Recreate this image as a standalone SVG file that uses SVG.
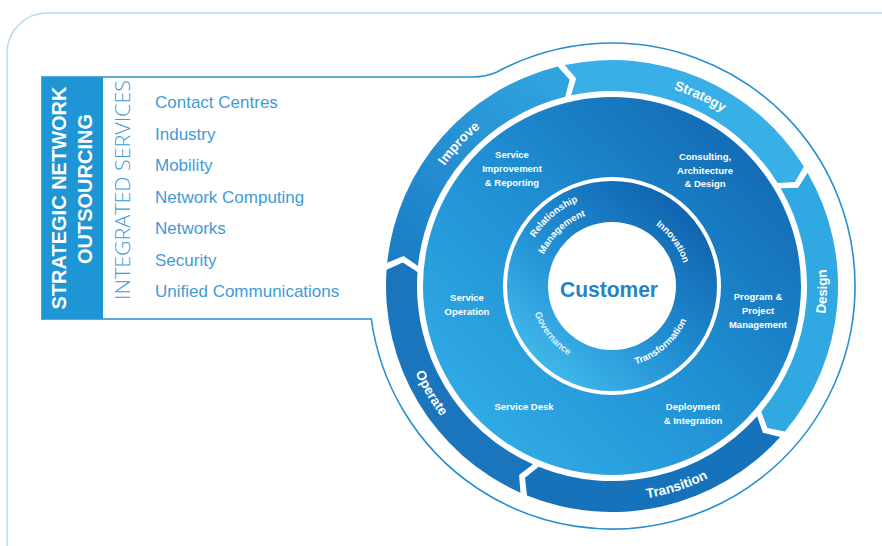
<svg xmlns="http://www.w3.org/2000/svg" width="882" height="546" viewBox="0 0 882 546">
<style>
.frame{fill:none;stroke:#b9d8ee;stroke-width:1.5}
.panel{fill:#fff;stroke:#2a8fd0;stroke-width:1.6}
.sno{font-family:"Liberation Sans",Arial,sans-serif;font-weight:700;font-size:20px;fill:#fff}
.isv{font-family:"Open Sans","Liberation Sans",sans-serif;font-weight:300;font-size:20px;fill:#3f9bd7}
.item{font-family:"Liberation Sans",Arial,sans-serif;font-size:17px;fill:#3f9bd7}
.seg-label{font-family:"Liberation Sans",Arial,sans-serif;font-weight:700;font-size:13.5px;fill:#fff}
.mid-label{font-family:"Liberation Sans",Arial,sans-serif;font-weight:700;font-size:9.5px;fill:#fff;text-anchor:middle}
.in-label{font-family:"Liberation Sans",Arial,sans-serif;font-weight:700;font-size:9.5px;fill:#fff}
.cust{font-family:"Liberation Sans",Arial,sans-serif;font-weight:700;font-size:22px;fill:#2584c6}
</style>
<defs>
<linearGradient id="gMid" gradientUnits="userSpaceOnUse" x1="760" y1="130" x2="450" y2="450">
<stop offset="0" stop-color="#1268b3"/><stop offset="0.45" stop-color="#1f8dd1"/><stop offset="1" stop-color="#33b0e8"/>
</linearGradient>
<linearGradient id="gInner" gradientUnits="userSpaceOnUse" x1="680" y1="210" x2="545" y2="365">
<stop offset="0" stop-color="#1165b1"/><stop offset="0.5" stop-color="#1f8bd0"/><stop offset="1" stop-color="#3fb6ea"/>
</linearGradient>
<linearGradient id="gImp" gradientUnits="userSpaceOnUse" x1="540" y1="75" x2="395" y2="260">
<stop offset="0" stop-color="#30a2de"/><stop offset="1" stop-color="#1b7dc5"/>
</linearGradient>
<path id="cw206" d="M612,492 A206,206 0 1 1 612,80 A206,206 0 1 1 612,492"/>
<path id="ccw215" d="M612,71 A215,215 0 1 0 612,501 A215,215 0 1 0 612,71"/>
<path id="cw75" d="M612,361 A75,75 0 1 1 612,211 A75,75 0 1 1 612,361"/>
<path id="cw91" d="M612,377 A91,91 0 1 1 612,195 A91,91 0 1 1 612,377"/>
<path id="cw75b" d="M612,361 A75,75 0 1 1 612,211 A75,75 0 1 1 612,361"/>
<path id="ccw82" d="M612,204 A82,82 0 1 0 612,368 A82,82 0 1 0 612,204"/>
</defs>

<rect class="frame" x="7" y="13" width="920" height="600" rx="40"/>

<g id="panel">
<path class="panel" d="M42,77 H472 Q486,77 497,72 A243,243 0 1 1 371.3,319 H42 Z"/>
<rect x="42" y="77" width="61" height="242" fill="#1e95d5"/>
<text class="sno" transform="translate(66,198) rotate(-90)" text-anchor="middle">STRATEGIC NETWORK</text>
<text class="sno" transform="translate(92,189) rotate(-90)" text-anchor="middle">OUTSOURCING</text>
<text class="isv" transform="translate(130,190) rotate(-90)" text-anchor="middle" textLength="220" lengthAdjust="spacingAndGlyphs">INTEGRATED SERVICES</text>
</g>

<g id="services">
<text class="item" x="155" y="108">Contact Centres</text>
<text class="item" x="155" y="139.5">Industry</text>
<text class="item" x="155" y="171">Mobility</text>
<text class="item" x="155" y="202.5">Network Computing</text>
<text class="item" x="155" y="234">Networks</text>
<text class="item" x="155" y="265.5">Security</text>
<text class="item" x="155" y="297">Unified Communications</text>
</g>

<g id="middle-ring">
<circle cx="612" cy="286" r="189" fill="url(#gMid)"/>
<text class="mid-label" x="512" y="158">Service</text>
<text class="mid-label" x="512" y="172">Improvement</text>
<text class="mid-label" x="512" y="186">&amp; Reporting</text>
<text class="mid-label" x="705" y="160">Consulting,</text>
<text class="mid-label" x="705" y="173.5">Architecture</text>
<text class="mid-label" x="705" y="187">&amp; Design</text>
<text class="mid-label" x="758" y="300">Program &amp;</text>
<text class="mid-label" x="758" y="314">Project</text>
<text class="mid-label" x="758" y="328">Management</text>
<text class="mid-label" x="693" y="410">Deployment</text>
<text class="mid-label" x="693" y="424">&amp; Integration</text>
<text class="mid-label" x="524" y="410">Service Desk</text>
<text class="mid-label" x="467" y="301">Service</text>
<text class="mid-label" x="467" y="315">Operation</text>
</g>

<g id="inner-ring">
<circle cx="612" cy="286" r="107" fill="url(#gInner)" stroke="#fff" stroke-width="4"/>
<text class="in-label" text-anchor="middle"><textPath href="#cw91" startOffset="38.9%">Relationship</textPath></text>
<text class="in-label" text-anchor="middle"><textPath href="#cw75b" startOffset="38.1%">Management</textPath></text>
<text class="in-label" text-anchor="middle"><textPath href="#cw75" startOffset="65%">Innovation</textPath></text>
<text class="in-label" text-anchor="middle"><textPath href="#ccw82" startOffset="61.4%">Transformation</textPath></text>
<text class="in-label" text-anchor="middle" fill-opacity="0.85"><textPath href="#ccw82" startOffset="35.75%">Governance</textPath></text>
</g>

<g id="customer">
<circle cx="612" cy="286" r="64" fill="#fff"/>
<text class="cust" x="609" y="297" text-anchor="middle" textLength="98" lengthAdjust="spacingAndGlyphs">Customer</text>
</g>

<g id="strategy">
<path fill="#38afe6" d="M564.63,65.02 A226,226 0 0 1 803.87,166.58 L795.03,182.03 L777.56,182.96 A195,195 0 0 0 571.13,95.33 L576.17,78.57 Z"/>
<text class="seg-label" text-anchor="middle"><textPath href="#cw206" startOffset="56.94%">Strategy</textPath></text>
</g>
<g id="design">
<path fill="#30a8e1" d="M807.54,172.66 A226,226 0 0 1 784.87,431.59 L767.45,427.94 L761.16,411.62 A195,195 0 0 0 780.71,188.21 L798.21,187.82 Z"/>
<text class="seg-label" text-anchor="middle"><textPath href="#ccw215" startOffset="74.58%">Design</textPath></text>
</g>
<g id="transition">
<path fill="#1672bb" d="M780.21,436.92 A226,226 0 0 1 526.98,495.39 L525.04,477.70 L538.64,466.67 A195,195 0 0 0 757.14,416.22 L762.91,432.76 Z"/>
<text class="seg-label" text-anchor="middle"><textPath href="#ccw215" startOffset="55%">Transition</textPath></text>
</g>
<g id="operate">
<path fill="#1a75bd" d="M520.45,492.63 A226,226 0 0 1 386.59,269.84 L402.81,262.53 L417.51,272.06 A195,195 0 0 0 533,464.29 L519.06,474.88 Z"/>
<text class="seg-label" text-anchor="middle"><textPath href="#ccw215" startOffset="33.5%">Operate</textPath></text>
</g>
<g id="improve">
<path fill="url(#gImp)" d="M387.2,262.77 A226,226 0 0 1 557.71,66.62 L569.67,79.79 L565.16,96.71 A195,195 0 0 0 418.03,265.95 L403.65,255.98 Z"/>
<text class="seg-label" text-anchor="middle"><textPath href="#cw206" startOffset="36.94%">Improve</textPath></text>
</g>
</svg>
